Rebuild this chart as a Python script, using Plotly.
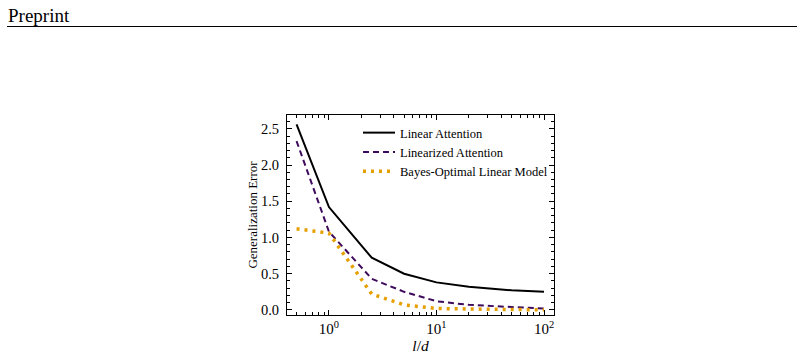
import plotly.graph_objects as go

# Data
ratio = [0.5, 1.0, 2.5, 5.0, 10.0, 20.0, 50.0, 100.0]
linear_attention = [2.56, 1.42, 0.72, 0.50, 0.38, 0.32, 0.27, 0.25]
linearized_attention = [2.33, 1.08, 0.43, 0.25, 0.12, 0.07, 0.04, 0.02]
bayes_optimal = [1.12, 1.06, 0.22, 0.07, 0.02, 0.01, 0.005, 0.003]

series_names = ["Linear Attention", "Linearized Attention", "Bayes-Optimal Linear Model"]
x_tickvals = [1, 10, 100]
x_ticktext = ["10<sup>0</sup>", "10<sup>1</sup>", "10<sup>2</sup>"]
y_tickvals = [0.0, 0.5, 1.0, 1.5, 2.0, 2.5]
y_ticktext = ["0.0", "0.5", "1.0", "1.5", "2.0", "2.5"]

W, H = 804, 360
L, R, T, B = 287, 554, 115, 315
FONT = "Liberation Serif, Times New Roman, serif"

fig = go.Figure()
fig.add_trace(go.Scatter(x=ratio, y=linear_attention, mode="lines", name=series_names[0],
                         line=dict(color="black", width=2)))
fig.add_trace(go.Scatter(x=ratio, y=linearized_attention, mode="lines", name=series_names[1],
                         line=dict(color="#3d0a5c", width=2, dash="6px,4px")))
fig.add_trace(go.Scatter(x=ratio, y=bayes_optimal, mode="lines", name=series_names[2],
                         line=dict(color="#E69F00", width=3.5, dash="3px,5px")))

minor_x = [m * 10 ** e for e in (-1, 0, 1) for m in range(2, 10)]

fig.update_layout(
    width=W, height=H,
    margin=dict(l=0, r=0, t=0, b=0),
    paper_bgcolor="white", plot_bgcolor="white",
    font=dict(family=FONT, size=14, color="black"),
    showlegend=True,
    legend=dict(x=358 / W, y=1 - 118 / H, xanchor="left", yanchor="top",
                bgcolor="rgba(0,0,0,0)", font=dict(size=12.5, family=FONT),
                tracegroupgap=0, itemwidth=32),
    xaxis=dict(type="log", domain=[L / W, R / W], range=[-0.39, 2.093],
               tickmode="array", tickvals=x_tickvals, ticktext=x_ticktext,
               ticks="inside", ticklen=5, tickcolor="black", showline=True, linecolor="black",
               linewidth=1, mirror="ticks", showgrid=False, zeroline=False, automargin=False,
               minor=dict(tickmode="array", tickvals=minor_x, ticks="inside", ticklen=3,
                          tickcolor="black", showgrid=False),
               tickfont=dict(size=15, family=FONT),
               title=dict(text="<i>l</i>/<i>d</i>", font=dict(size=15.5, family=FONT), standoff=3)),
    yaxis=dict(domain=[1 - B / H, 1 - T / H], range=[-0.07, 2.69],
               tickmode="array", tickvals=y_tickvals, ticktext=y_ticktext,
               ticks="inside", ticklen=5, tickcolor="black", showline=True, linecolor="black",
               linewidth=1, mirror="ticks", showgrid=False, zeroline=False, automargin=False,
               ticklabelstandoff=4,
               minor=dict(dtick=0.1, ticks="inside", ticklen=3, tickcolor="black", showgrid=False),
               tickfont=dict(size=14.5, family=FONT),
               title=dict(text="Generalization Error", font=dict(size=13, family=FONT), standoff=0)),
    annotations=[dict(text="Preprint", x=6 / W, y=1 - 16 / H, xref="paper", yref="paper",
                      xanchor="left", yanchor="middle", showarrow=False,
                      font=dict(size=19, family=FONT, color="black"))],
    shapes=[dict(type="line", xref="paper", yref="paper", x0=7 / W, x1=797 / W,
                 y0=1 - 26.5 / H, y1=1 - 26.5 / H, line=dict(color="black", width=1))],
)

fig.write_html("out.html")
